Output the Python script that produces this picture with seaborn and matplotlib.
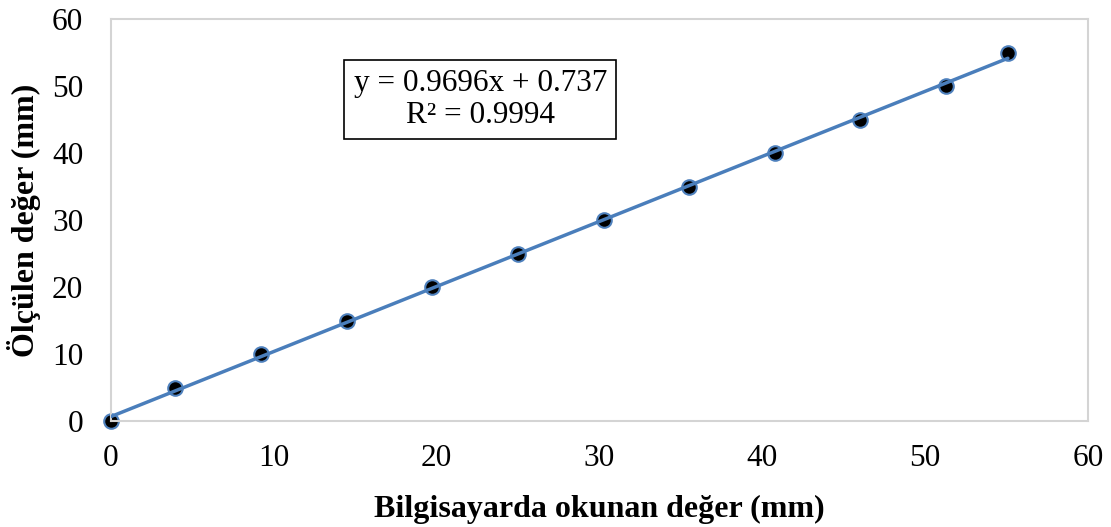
import numpy as np
import pandas as pd
import matplotlib
matplotlib.use("Agg")
import matplotlib.pyplot as plt
import seaborn as sns

# Measured data: value read on the computer vs. measured value (mm)
okunan = [0.0, 3.93, 9.21, 14.48, 19.74, 24.98, 30.28, 35.52, 40.79, 46.01, 51.25, 55.08]
olculen = [0, 5, 10, 15, 20, 25, 30, 35, 40, 45, 50, 55]

# Linear trendline coefficients
egim = 0.9696
kesisim = 0.737
r2 = 0.9994

x_ticks = [0, 10, 20, 30, 40, 50, 60]
y_ticks = [0, 10, 20, 30, 40, 50, 60]

sns.set_theme(style="white")
plt.rcParams["font.family"] = ["Liberation Serif", "DejaVu Serif"]
plt.rcParams["text.color"] = "black"
plt.rcParams["axes.labelcolor"] = "black"
plt.rcParams["xtick.color"] = "black"
plt.rcParams["ytick.color"] = "black"

df = pd.DataFrame({"okunan": okunan, "olculen": olculen})
trend_x = np.array([min(okunan), max(okunan)])
trend = pd.DataFrame({"x": trend_x, "y": egim * trend_x + kesisim})

fig = plt.figure(figsize=(11.11, 5.27), dpi=100)
ax = fig.add_axes([0.0999, 0.2002, 0.8794, 0.7638])

sns.scatterplot(data=df, x="okunan", y="olculen", ax=ax, s=110,
                color="black", edgecolor="#4f81bd", linewidth=1.5,
                zorder=2, clip_on=False)
sns.lineplot(data=trend, x="x", y="y", ax=ax, color="#4a7ebb",
             linewidth=2.5, zorder=3)

ax.set_xlim(0, 60)
ax.set_ylim(0, 60)
ax.set_xticks(x_ticks)
ax.set_yticks(y_ticks)
ax.tick_params(axis="both", length=0, labelsize=22.5, labelcolor="black")
ax.tick_params(axis="x", pad=16)
ax.tick_params(axis="y", pad=20)

for sp in ax.spines.values():
    sp.set_color("#d4d4d4")
    sp.set_linewidth(1.5)

ax.set_xlabel("Bilgisayarda okunan değer (mm)", fontsize=23, fontweight="bold",
              labelpad=16, color="black")
ax.set_ylabel("Ölçülen değer (mm)", fontsize=23, fontweight="bold",
              labelpad=8, color="black")

ax.text(0.378, 0.80,
        f"y = {egim}x + {kesisim}\nR² = {r2}",
        transform=ax.transAxes, ha="center", va="center", fontsize=22.5,
        linespacing=1.1, color="black",
        bbox=dict(boxstyle="square,pad=0.3", facecolor="white",
                  edgecolor="black", linewidth=1.2))

fig.savefig("out.png", dpi=100)
